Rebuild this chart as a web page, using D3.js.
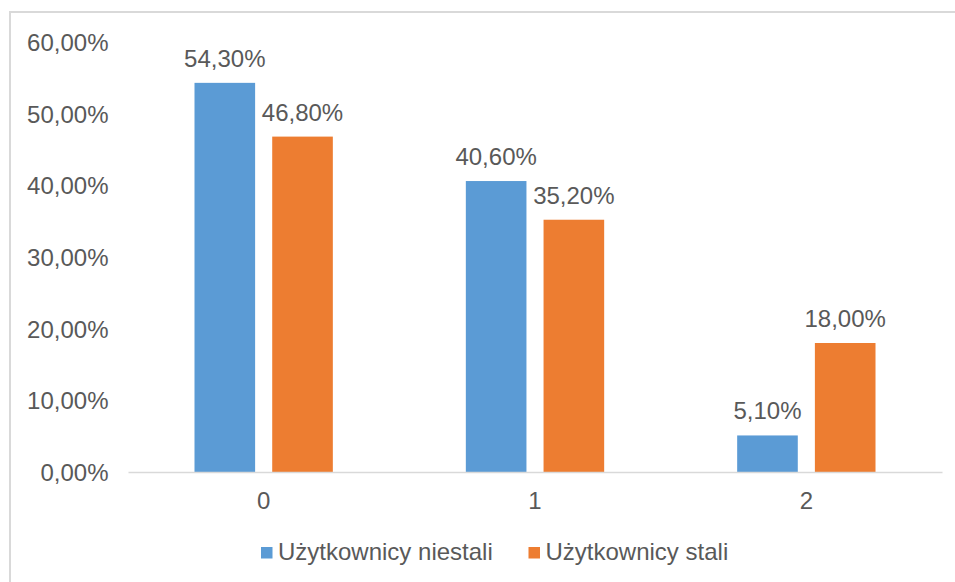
<!DOCTYPE html>
<html>
<head>
<meta charset="utf-8">
<script src="https://cdn.jsdelivr.net/npm/d3@7/dist/d3.min.js"></script>
<style>
  html, body { margin: 0; padding: 0; background: #fff; }
  svg { display: block; }
  text { font-family: "Liberation Sans", Arial, sans-serif; fill: #595959; }
</style>
</head>
<body>
<svg id="chart" width="955" height="582"></svg>
<script>
const categories = ["0", "1", "2"];
const seriesNames = ["Użytkownicy niestali", "Użytkownicy stali"];
const niestali = [54.3, 40.6, 5.1];
const stali = [46.8, 35.2, 18.0];
const yTicks = [0, 10, 20, 30, 40, 50, 60];
const colors = ["#5B9BD5", "#ED7D31"];

(function () {
const svg = d3.select("#chart");
const W = 955, H = 582;
const fontSize = 24;

// outer border
svg.append("rect")
  .attr("x", 10).attr("y", 12)
  .attr("width", W + 10).attr("height", H + 10)
  .attr("fill", "#fff")
  .attr("stroke", "#d9d9d9").attr("stroke-width", 2);

const pl = 128, pr = 942, pt = 42, pb = 472;

const fmt = v => v.toFixed(2).replace(".", ",") + "%";

const x0 = d3.scaleBand().domain(categories).range([pl, pr]).paddingInner(0).paddingOuter(0);
const x1 = d3.scaleBand().domain([0, 1]).range([66.5, x0.bandwidth() - 66.5]).paddingInner(0.22);
const y = d3.scaleLinear().domain([0, 60]).range([pb, pt]);

// y axis labels
const yAxis = d3.axisLeft(y).tickValues(yTicks).tickFormat(fmt).tickSize(0).tickPadding(0);
const gy = svg.append("g").attr("transform", `translate(108.5,0)`).call(yAxis);
gy.select(".domain").remove();
gy.selectAll("text")
  .attr("font-size", fontSize)
  .attr("font-family", "Liberation Sans, Arial, sans-serif")
  .attr("fill", "#595959")
  .attr("dy", "0.35em");

const data = categories.map((c, i) => ({ cat: c, vals: [niestali[i], stali[i]] }));

const groups = svg.append("g").selectAll("g").data(data).join("g")
  .attr("transform", d => `translate(${x0(d.cat)},0)`);

groups.selectAll("rect").data(d => d.vals.map((v, j) => ({ v, j }))).join("rect")
  .attr("x", d => x1(d.j))
  .attr("width", x1.bandwidth())
  .attr("y", d => y(d.v))
  .attr("height", d => y(0) - y(d.v))
  .attr("fill", d => colors[d.j]);

groups.selectAll("text.lbl").data(d => d.vals.map((v, j) => ({ v, j }))).join("text")
  .attr("class", "lbl")
  .attr("x", d => x1(d.j) + x1.bandwidth() / 2)
  .attr("y", d => y(d.v) - 16)
  .attr("text-anchor", "middle")
  .attr("font-size", fontSize)
  .text(d => fmt(d.v));

// x axis
const xAxis = d3.axisBottom(x0).tickSize(0).tickPadding(0);
const gx = svg.append("g").attr("transform", `translate(0,${pb})`).call(xAxis);
gx.select(".domain").attr("stroke", "#d9d9d9").attr("stroke-width", 1.5);
gx.selectAll("text")
  .attr("font-size", fontSize)
  .attr("font-family", "Liberation Sans, Arial, sans-serif")
  .attr("fill", "#595959")
  .attr("y", 36.5)
  .attr("dy", 0);

// legend
const legendX = [261, 528.5];
const lg = svg.append("g").selectAll("g").data(seriesNames).join("g")
  .attr("transform", (d, i) => `translate(${legendX[i]},547)`);
lg.append("rect").attr("width", 11.5).attr("height", 11.5).attr("fill", (d, i) => colors[i]);
lg.append("text").attr("x", 17).attr("y", 12.5).attr("font-size", fontSize).text(d => d);
})();
</script>
</body>
</html>
